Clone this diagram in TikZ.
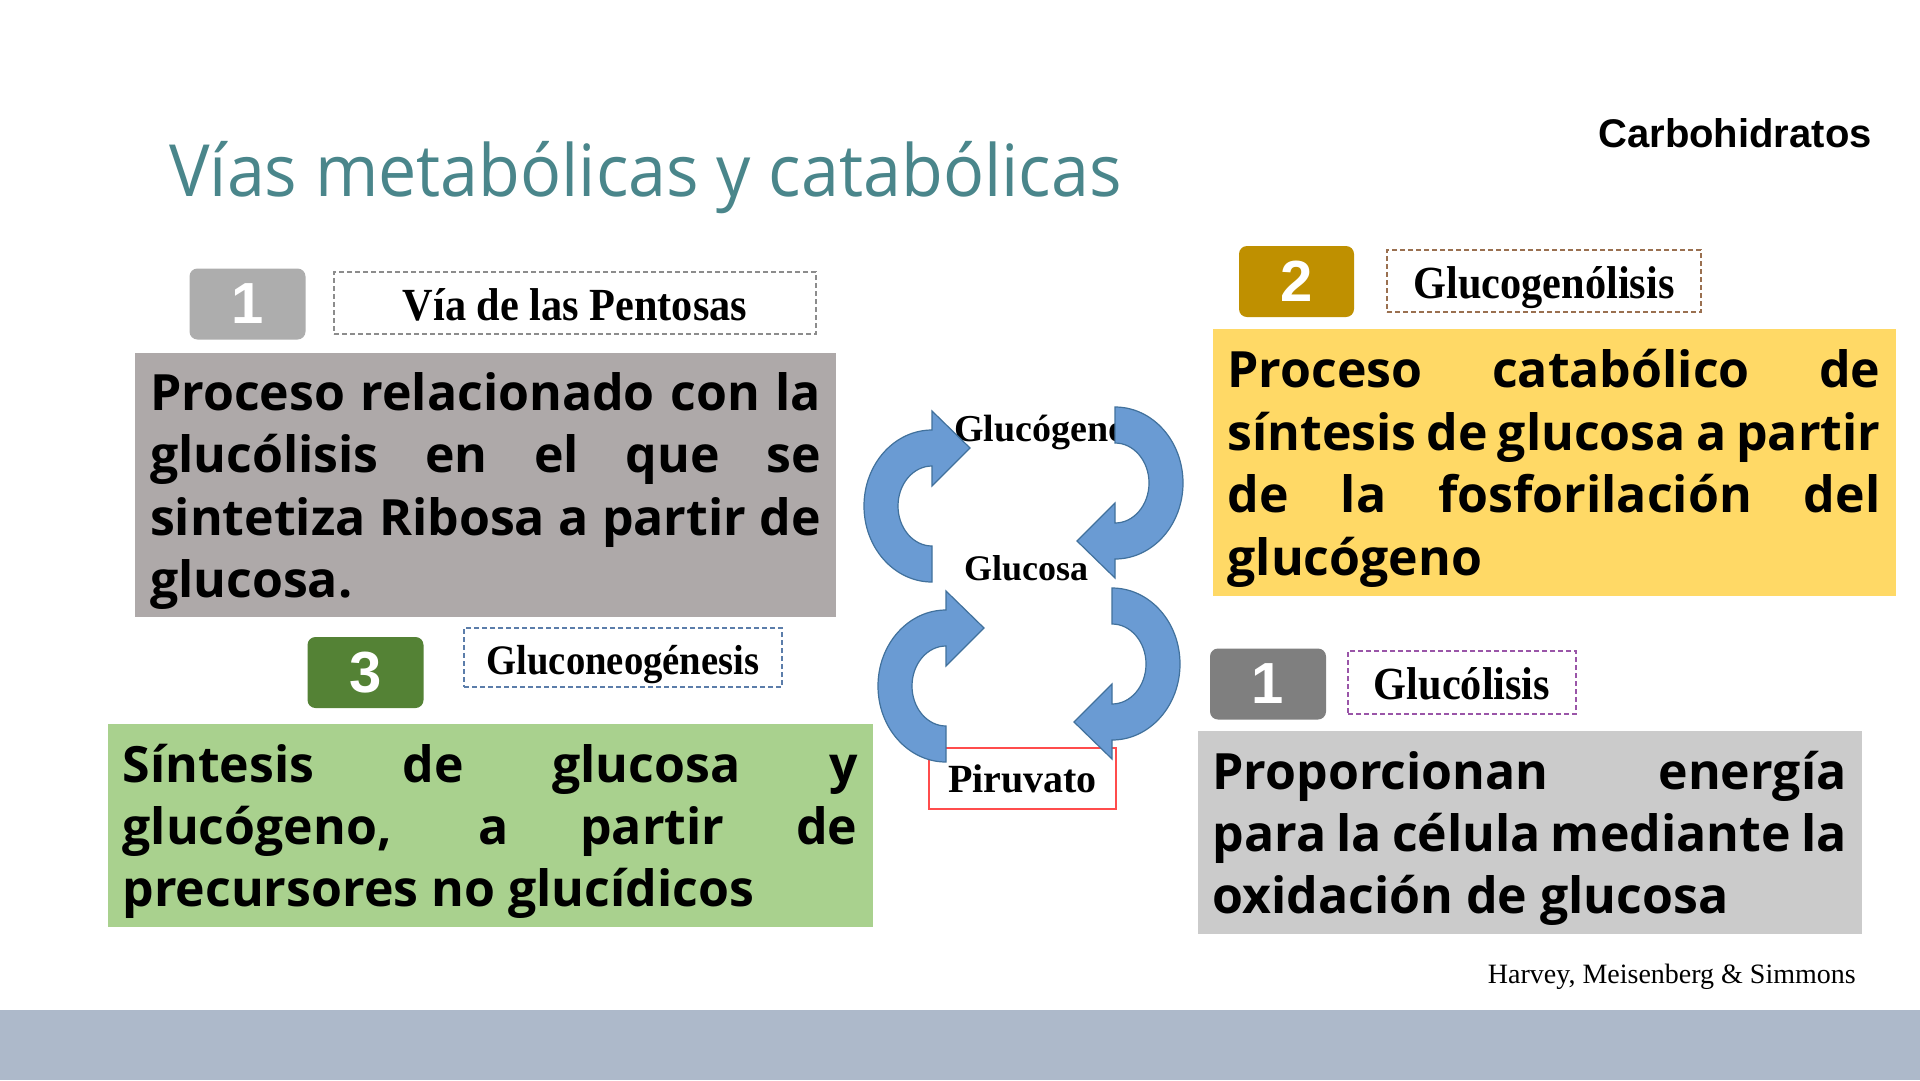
\documentclass[tikz,border=0pt]{standalone}
\usepackage{fontspec}
\setmainfont{Liberation Serif}
\newfontfamily\titulofont[FakeStretch=0.947]{Open Sans}
\newfontfamily\cuerpofont{Open Sans}
\newfontfamily\cabfont[FakeStretch=0.92]{Liberation Serif}
\newfontfamily\numfont{Liberation Sans}
\usetikzlibrary{positioning}

\definecolor{titulo}{HTML}{4A868B}
\definecolor{cajagris}{HTML}{AEA9A9}
\definecolor{cajaamarilla}{HTML}{FFD966}
\definecolor{cajaverde}{HTML}{A9D18E}
\definecolor{cajaclara}{HTML}{CBCBCB}
\definecolor{num1}{HTML}{ADADAD}
\definecolor{num2}{HTML}{BF9000}
\definecolor{num3}{HTML}{548235}
\definecolor{num4}{HTML}{7F7F7F}
\definecolor{borde1}{HTML}{8C8C8C}
\definecolor{borde2}{HTML}{9A7050}
\definecolor{borde3}{HTML}{5B7DAA}
\definecolor{borde4}{HTML}{9A55A8}
\definecolor{flecha}{HTML}{6A9BD3}
\definecolor{flechaborde}{HTML}{41719C}
\definecolor{banda}{HTML}{ADB9CA}

\tikzset{
    numero/.style={rounded corners=8pt, minimum width=116pt, minimum height=71pt, inner sep=0pt,
        text=white, font=\numfont\bfseries\fontsize{58}{58}\selectfont},
    etiqueta/.style={draw, dash pattern=on 5pt off 3pt, line width=1.3pt, inner sep=0pt,
        text height=44pt, text depth=10pt, font=\cabfont\bfseries\fontsize{46}{46}\selectfont},
    texto/.style={align=justify, inner xsep=15pt, inner ysep=0pt,
        font=\cuerpofont\bfseries\fontsize{50}{62.4}\selectfont,
        execute at begin node={\tolerance=10000\hyphenpenalty=10000\rule{0pt}{52pt}},
        execute at end node={\rule[-14pt]{0pt}{14pt}}},
    centro/.style={inner sep=0pt, font=\bfseries\fontsize{36}{36}\selectfont},
    ciclo/.style={fill=flecha, draw=flechaborde, line width=1.2pt}
}

% flecha circular: centro, giro
\newcommand{\flechaciclo}[2]{%
    \draw[ciclo, shift={#1}, rotate=#2] (0,76)
        arc[start angle=90, end angle=270, x radius=68, y radius=76]
        -- (0,-95) -- (38,-58) -- (0,-20) -- (0,-40)
        arc[start angle=270, end angle=90, x radius=34, y radius=40] -- cycle;}

\begin{document}
\begin{tikzpicture}[x=1pt, y=-1pt]
    \useasboundingbox[fill=white] (0,0) rectangle (1920,1080);
    \fill[banda] (0,1010) rectangle (1920,1080);

    \node[anchor=base west, text=titulo, inner sep=0pt, font=\titulofont\fontsize{72}{72}\selectfont]
        (titulo) at (169,196) {Vías metabólicas y catabólicas};
    \node[inner sep=0pt, font=\numfont\bfseries\fontsize{40}{40}\selectfont] (tema) at (1735,133) {Carbohidratos};

    % 1: pentosas
    \node[numero, fill=num1] (n1) at (247.5,304) {1};
    \node[etiqueta, draw=borde1, minimum width=482pt, minimum height=62pt] (pentosas) at (575,303) {Vía de las Pentosas};
    \node[texto, fill=cajagris, text width=671pt, minimum height=264pt] (tpentosas) at (485.5,485)
        {Proceso relacionado con la\linebreak glucólisis en el que se\linebreak sintetiza Ribosa a partir de\linebreak glucosa.};

    % 2: glucogenolisis
    \node[numero, fill=num2, minimum width=115pt] (n2) at (1296.5,281.5) {2};
    \node[etiqueta, draw=borde2, minimum width=314pt, minimum height=62pt] (glucogenolisis) at (1544,281) {Glucogenólisis};
    \node[texto, fill=cajaamarilla, text width=653pt, minimum height=267pt] (tglucogenolisis) at (1554,462.5)
        {Proceso catabólico de\linebreak síntesis de glucosa a partir\linebreak de la fosforilación del\linebreak glucógeno};

    % 3: gluconeogenesis
    \node[numero, fill=num3] (n3) at (365.5,672.5) {3};
    \node[etiqueta, draw=borde3, minimum width=318pt, minimum height=59pt,
        font=\cabfont\bfseries\fontsize{42}{42}\selectfont] (gluconeogenesis) at (623,657.5) {Gluconeogénesis};
    \node[texto, fill=cajaverde, text width=735pt, minimum height=203pt] (tgluconeogenesis) at (490,825.5)
        {Síntesis de glucosa y\linebreak glucógeno, a partir de\linebreak precursores no glucídicos};

    % 1: glucolisis
    \node[numero, fill=num4] (n4) at (1268,684) {1};
    \node[etiqueta, draw=borde4, minimum width=228pt, minimum height=63pt] (glucolisis) at (1462,682.5) {Glucólisis};
    \node[texto, fill=cajaclara, text width=634pt, minimum height=203pt] (tglucolisis) at (1529.5,832.5)
        {Proporcionan energía\linebreak para la célula mediante la\linebreak oxidación de glucosa};

    % ciclo central
    \node[centro, anchor=west, font=\bfseries\fontsize{38}{38}\selectfont] (glucogeno) at (954,432) {Glucógeno};
    \node[centro] (glucosa) at (1026,568) {Glucosa};
    \node[centro, draw=red!70, line width=1.3pt, fill=white, minimum width=187pt, minimum height=61pt,
        font=\bfseries\fontsize{40}{40}\selectfont] (piruvato) at (1022.5,778.5) {Piruvato};
    \flechaciclo{(932,506)}{0}
    \flechaciclo{(1115,483)}{180}
    \flechaciclo{(946,686)}{0}
    \flechaciclo{(1112,664)}{180}

    \node[anchor=east, inner sep=0pt, font=\fontsize{28}{28}\selectfont] (cita) at (1856,977) {Harvey, Meisenberg \& Simmons};
\end{tikzpicture}
\end{document}
